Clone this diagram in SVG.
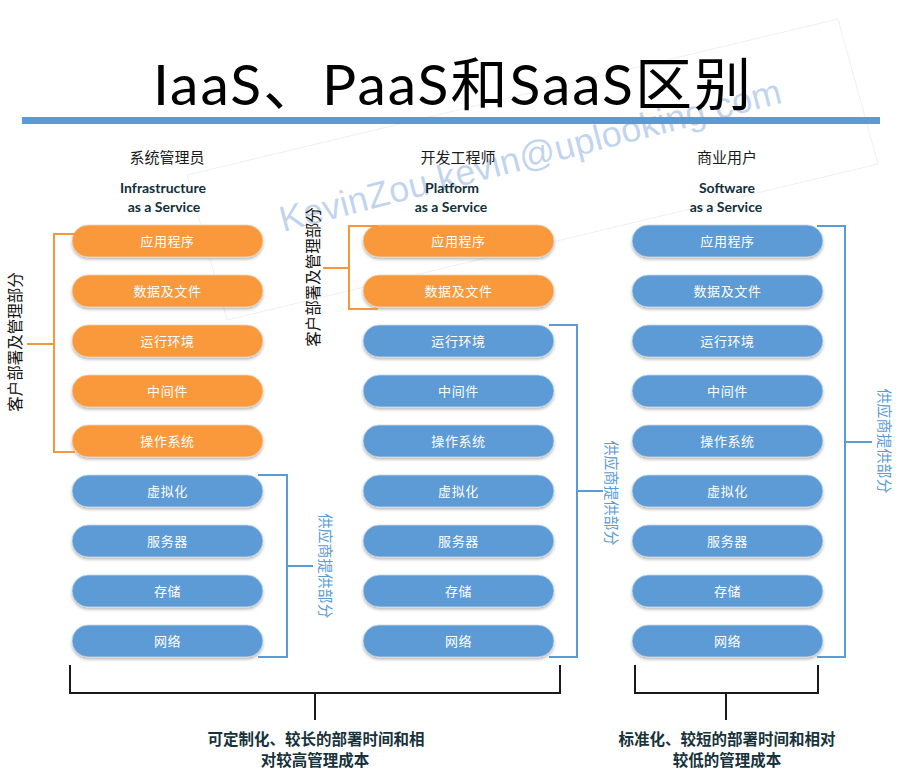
<svg xmlns="http://www.w3.org/2000/svg" width="900" height="777" viewBox="0 0 900 777">
<defs>
<filter id="sh" x="-10%" y="-30%" width="120%" height="180%">
<feDropShadow dx="0" dy="2" stdDeviation="1.5" flood-color="#000" flood-opacity="0.28"/>
</filter>
<style>
.pill-o{fill:#F9993A;stroke:#e9d6c4;stroke-width:0.8;filter:url(#sh)}
.pill-b{fill:#5B9BD5;stroke:#cdd9e4;stroke-width:0.8;filter:url(#sh)}
.pt{font-family:"Noto Sans CJK SC",sans-serif;font-size:13px;fill:#fff;text-anchor:middle;letter-spacing:0.6px}
.hd{font-family:"Noto Sans CJK SC",sans-serif;font-size:15px;fill:#1a1a1a;text-anchor:middle}
.en{font-family:Lato,"Liberation Sans",sans-serif;font-weight:bold;font-size:14px;fill:#10303a;text-anchor:middle}
.ob{fill:none;stroke:#F7963B;stroke-width:2}
.bb{fill:none;stroke:#5B9BD5;stroke-width:2}
.kb{fill:none;stroke:#1a1a1a;stroke-width:2}
.vl{font-family:"Noto Sans CJK SC",sans-serif;font-size:15.5px;fill:#111;text-anchor:middle;dominant-baseline:central}
.vb{font-family:"Noto Sans CJK SC",sans-serif;font-size:15px;fill:#5B9BD5;text-anchor:middle;dominant-baseline:central}
.ft{font-family:"Noto Sans CJK SC",sans-serif;font-weight:bold;font-size:15.5px;fill:#17323a;text-anchor:middle}
</style>
</defs>
<rect width="900" height="777" fill="#fff"/>
<g id="watermark">
<polygon points="187,175 838,19 878,164 227,320" fill="none" stroke="#f0f0f0" stroke-width="1"/>
<text x="283" y="232" transform="rotate(-14.5 283 232)" font-family="'Liberation Sans',sans-serif" font-size="36" fill="#5B8ED6" fill-opacity="0.38" textLength="517">KevinZou kevin@uplooking.com</text>
</g>
<g id="title">
<text x="452" y="105" font-family="Lato,'Noto Sans CJK SC',sans-serif" font-size="57" fill="#000" text-anchor="middle" textLength="598" lengthAdjust="spacing">IaaS、PaaS和SaaS区别</text>
<rect x="22" y="117" width="858" height="7" fill="#5B9BD5"/>
</g>
<g id="headers">
<text class="hd" x="167" y="163">系统管理员</text>
<text class="en" x="163" y="193">Infrastructure</text>
<text class="en" x="164" y="212">as a Service</text>
<text class="hd" x="458" y="163">开发工程师</text>
<text class="en" x="452" y="193">Platform</text>
<text class="en" x="451" y="212">as a Service</text>
<text class="hd" x="727" y="163">商业用户</text>
<text class="en" x="727" y="193">Software</text>
<text class="en" x="726" y="212">as a Service</text>
</g>
<g id="iaas">
<g id="iaas-1"><rect class="pill-o" x="72" y="225" width="191" height="32" rx="16"/><text class="pt" x="167.5" y="246">应用程序</text></g>
<g id="iaas-2"><rect class="pill-o" x="72" y="275" width="191" height="32" rx="16"/><text class="pt" x="167.5" y="296">数据及文件</text></g>
<g id="iaas-3"><rect class="pill-o" x="72" y="325" width="191" height="32" rx="16"/><text class="pt" x="167.5" y="346">运行环境</text></g>
<g id="iaas-4"><rect class="pill-o" x="72" y="375" width="191" height="32" rx="16"/><text class="pt" x="167.5" y="396">中间件</text></g>
<g id="iaas-5"><rect class="pill-o" x="72" y="425" width="191" height="32" rx="16"/><text class="pt" x="167.5" y="446">操作系统</text></g>
<g id="iaas-6"><rect class="pill-b" x="72" y="475" width="191" height="32" rx="16"/><text class="pt" x="167.5" y="496">虚拟化</text></g>
<g id="iaas-7"><rect class="pill-b" x="72" y="525" width="191" height="32" rx="16"/><text class="pt" x="167.5" y="546">服务器</text></g>
<g id="iaas-8"><rect class="pill-b" x="72" y="575" width="191" height="32" rx="16"/><text class="pt" x="167.5" y="596">存储</text></g>
<g id="iaas-9"><rect class="pill-b" x="72" y="625" width="191" height="32" rx="16"/><text class="pt" x="167.5" y="646">网络</text></g>
</g>
<g id="paas">
<g id="paas-1"><rect class="pill-o" x="363" y="225" width="191" height="32" rx="16"/><text class="pt" x="458.5" y="246">应用程序</text></g>
<g id="paas-2"><rect class="pill-o" x="363" y="275" width="191" height="32" rx="16"/><text class="pt" x="458.5" y="296">数据及文件</text></g>
<g id="paas-3"><rect class="pill-b" x="363" y="325" width="191" height="32" rx="16"/><text class="pt" x="458.5" y="346">运行环境</text></g>
<g id="paas-4"><rect class="pill-b" x="363" y="375" width="191" height="32" rx="16"/><text class="pt" x="458.5" y="396">中间件</text></g>
<g id="paas-5"><rect class="pill-b" x="363" y="425" width="191" height="32" rx="16"/><text class="pt" x="458.5" y="446">操作系统</text></g>
<g id="paas-6"><rect class="pill-b" x="363" y="475" width="191" height="32" rx="16"/><text class="pt" x="458.5" y="496">虚拟化</text></g>
<g id="paas-7"><rect class="pill-b" x="363" y="525" width="191" height="32" rx="16"/><text class="pt" x="458.5" y="546">服务器</text></g>
<g id="paas-8"><rect class="pill-b" x="363" y="575" width="191" height="32" rx="16"/><text class="pt" x="458.5" y="596">存储</text></g>
<g id="paas-9"><rect class="pill-b" x="363" y="625" width="191" height="32" rx="16"/><text class="pt" x="458.5" y="646">网络</text></g>
</g>
<g id="saas">
<g id="saas-1"><rect class="pill-b" x="632" y="225" width="191" height="32" rx="16"/><text class="pt" x="727.5" y="246">应用程序</text></g>
<g id="saas-2"><rect class="pill-b" x="632" y="275" width="191" height="32" rx="16"/><text class="pt" x="727.5" y="296">数据及文件</text></g>
<g id="saas-3"><rect class="pill-b" x="632" y="325" width="191" height="32" rx="16"/><text class="pt" x="727.5" y="346">运行环境</text></g>
<g id="saas-4"><rect class="pill-b" x="632" y="375" width="191" height="32" rx="16"/><text class="pt" x="727.5" y="396">中间件</text></g>
<g id="saas-5"><rect class="pill-b" x="632" y="425" width="191" height="32" rx="16"/><text class="pt" x="727.5" y="446">操作系统</text></g>
<g id="saas-6"><rect class="pill-b" x="632" y="475" width="191" height="32" rx="16"/><text class="pt" x="727.5" y="496">虚拟化</text></g>
<g id="saas-7"><rect class="pill-b" x="632" y="525" width="191" height="32" rx="16"/><text class="pt" x="727.5" y="546">服务器</text></g>
<g id="saas-8"><rect class="pill-b" x="632" y="575" width="191" height="32" rx="16"/><text class="pt" x="727.5" y="596">存储</text></g>
<g id="saas-9"><rect class="pill-b" x="632" y="625" width="191" height="32" rx="16"/><text class="pt" x="727.5" y="646">网络</text></g>
</g>
<g id="connectors">
<path class="ob" d="M80,234 H54 V452 H75 M54,344 H27"/>
<path class="bb" d="M258,475 H287 V657 H258 M287,566 H313"/>
<path class="ob" d="M378,226 H349 V309 H378 M349,268 H323"/>
<path class="bb" d="M549,325 H577 V657 H549 M577,491 H603"/>
<path class="bb" d="M817,226 H845 V657 H817 M845,442 H872"/>
<path class="kb" d="M70,665 V693 H560 V665 M315,693 V720"/>
<path class="kb" d="M635,665 V693 H818 V665 M726,693 V720"/>
</g>
<g id="labels">
<text class="vl" x="14" y="342" transform="rotate(-90 14 342)" font-size="16">客户部署及管理部分</text>
<text class="vl" x="312" y="277" transform="rotate(-90 312 277)">客户部署及管理部分</text>
<text class="vb" x="326" y="566" transform="rotate(90 326 566)">供应商提供部分</text>
<text class="vb" x="612" y="493" transform="rotate(90 612 493)">供应商提供部分</text>
<text class="vb" x="885" y="441" transform="rotate(90 885 441)">供应商提供部分</text>
<text class="ft" x="316" y="745">可定制化、较长的部署时间和相</text>
<text class="ft" x="315" y="766">对较高管理成本</text>
<text class="ft" x="727" y="745">标准化、较短的部署时间和相对</text>
<text class="ft" x="727" y="766">较低的管理成本</text>
</g>
</svg>
